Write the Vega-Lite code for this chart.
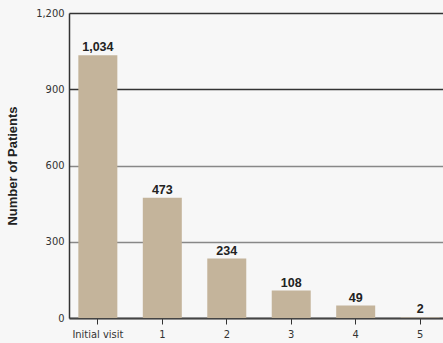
{
  "$schema": "https://vega.github.io/schema/vega-lite/v6.json",
  "width": 380,
  "height": 305,
  "autosize": {"type": "none"},
  "padding": {"left": 69, "top": 13, "right": 0, "bottom": 25},
  "background": "#f7f7f7",
  "config": {
    "view": {"stroke": null},
    "font": "Liberation Sans, sans-serif"
  },
  "data": {
    "values": [
      {"visit": "Initial visit", "patients": 1034},
      {"visit": "1", "patients": 473},
      {"visit": "2", "patients": 234},
      {"visit": "3", "patients": 108},
      {"visit": "4", "patients": 49},
      {"visit": "5", "patients": 2}
    ]
  },
  "encoding": {
    "x": {
      "field": "visit",
      "type": "nominal",
      "sort": null,
      "scale": {"paddingInner": 0.395, "paddingOuter": 0.145},
      "axis": {
        "title": null,
        "labelAngle": 0,
        "labelFont": "DejaVu Sans Condensed",
        "labelFontSize": 11,
        "labelColor": "#333333",
        "labelPadding": 4,
        "tickSize": 6,
        "tickColor": "#333333",
        "tickWidth": 1,
        "domainColor": "#444444",
        "domainWidth": 2
      }
    },
    "y": {
      "field": "patients",
      "type": "quantitative",
      "scale": {"domain": [0, 1200], "nice": false},
      "axis": {
        "title": "Number of Patients",
        "titleFont": "Liberation Sans",
        "titleFontSize": 13,
        "titleFontWeight": "bold",
        "titleColor": "#222222",
        "titlePadding": 16,
        "values": [0, 300, 600, 900, 1200],
        "format": ",d",
        "labelFont": "DejaVu Sans Condensed",
        "labelFontSize": 11,
        "labelColor": "#333333",
        "labelPadding": 5,
        "ticks": false,
        "domainColor": "#333333",
        "domainWidth": 1.5,
        "grid": true,
        "gridColor": {
          "condition": {"test": "datum.value >= 900", "value": "#333333"},
          "value": "#888888"
        },
        "gridWidth": 1.5
      }
    }
  },
  "layer": [
    {
      "mark": {"type": "bar", "color": "#c4b49b"}
    },
    {
      "mark": {
        "type": "text",
        "baseline": "alphabetic",
        "dy": -4,
        "font": "Liberation Sans",
        "fontSize": 12.5,
        "fontWeight": "bold",
        "color": "#222222"
      },
      "encoding": {
        "text": {"field": "patients", "type": "quantitative", "format": ",d"}
      }
    }
  ]
}
